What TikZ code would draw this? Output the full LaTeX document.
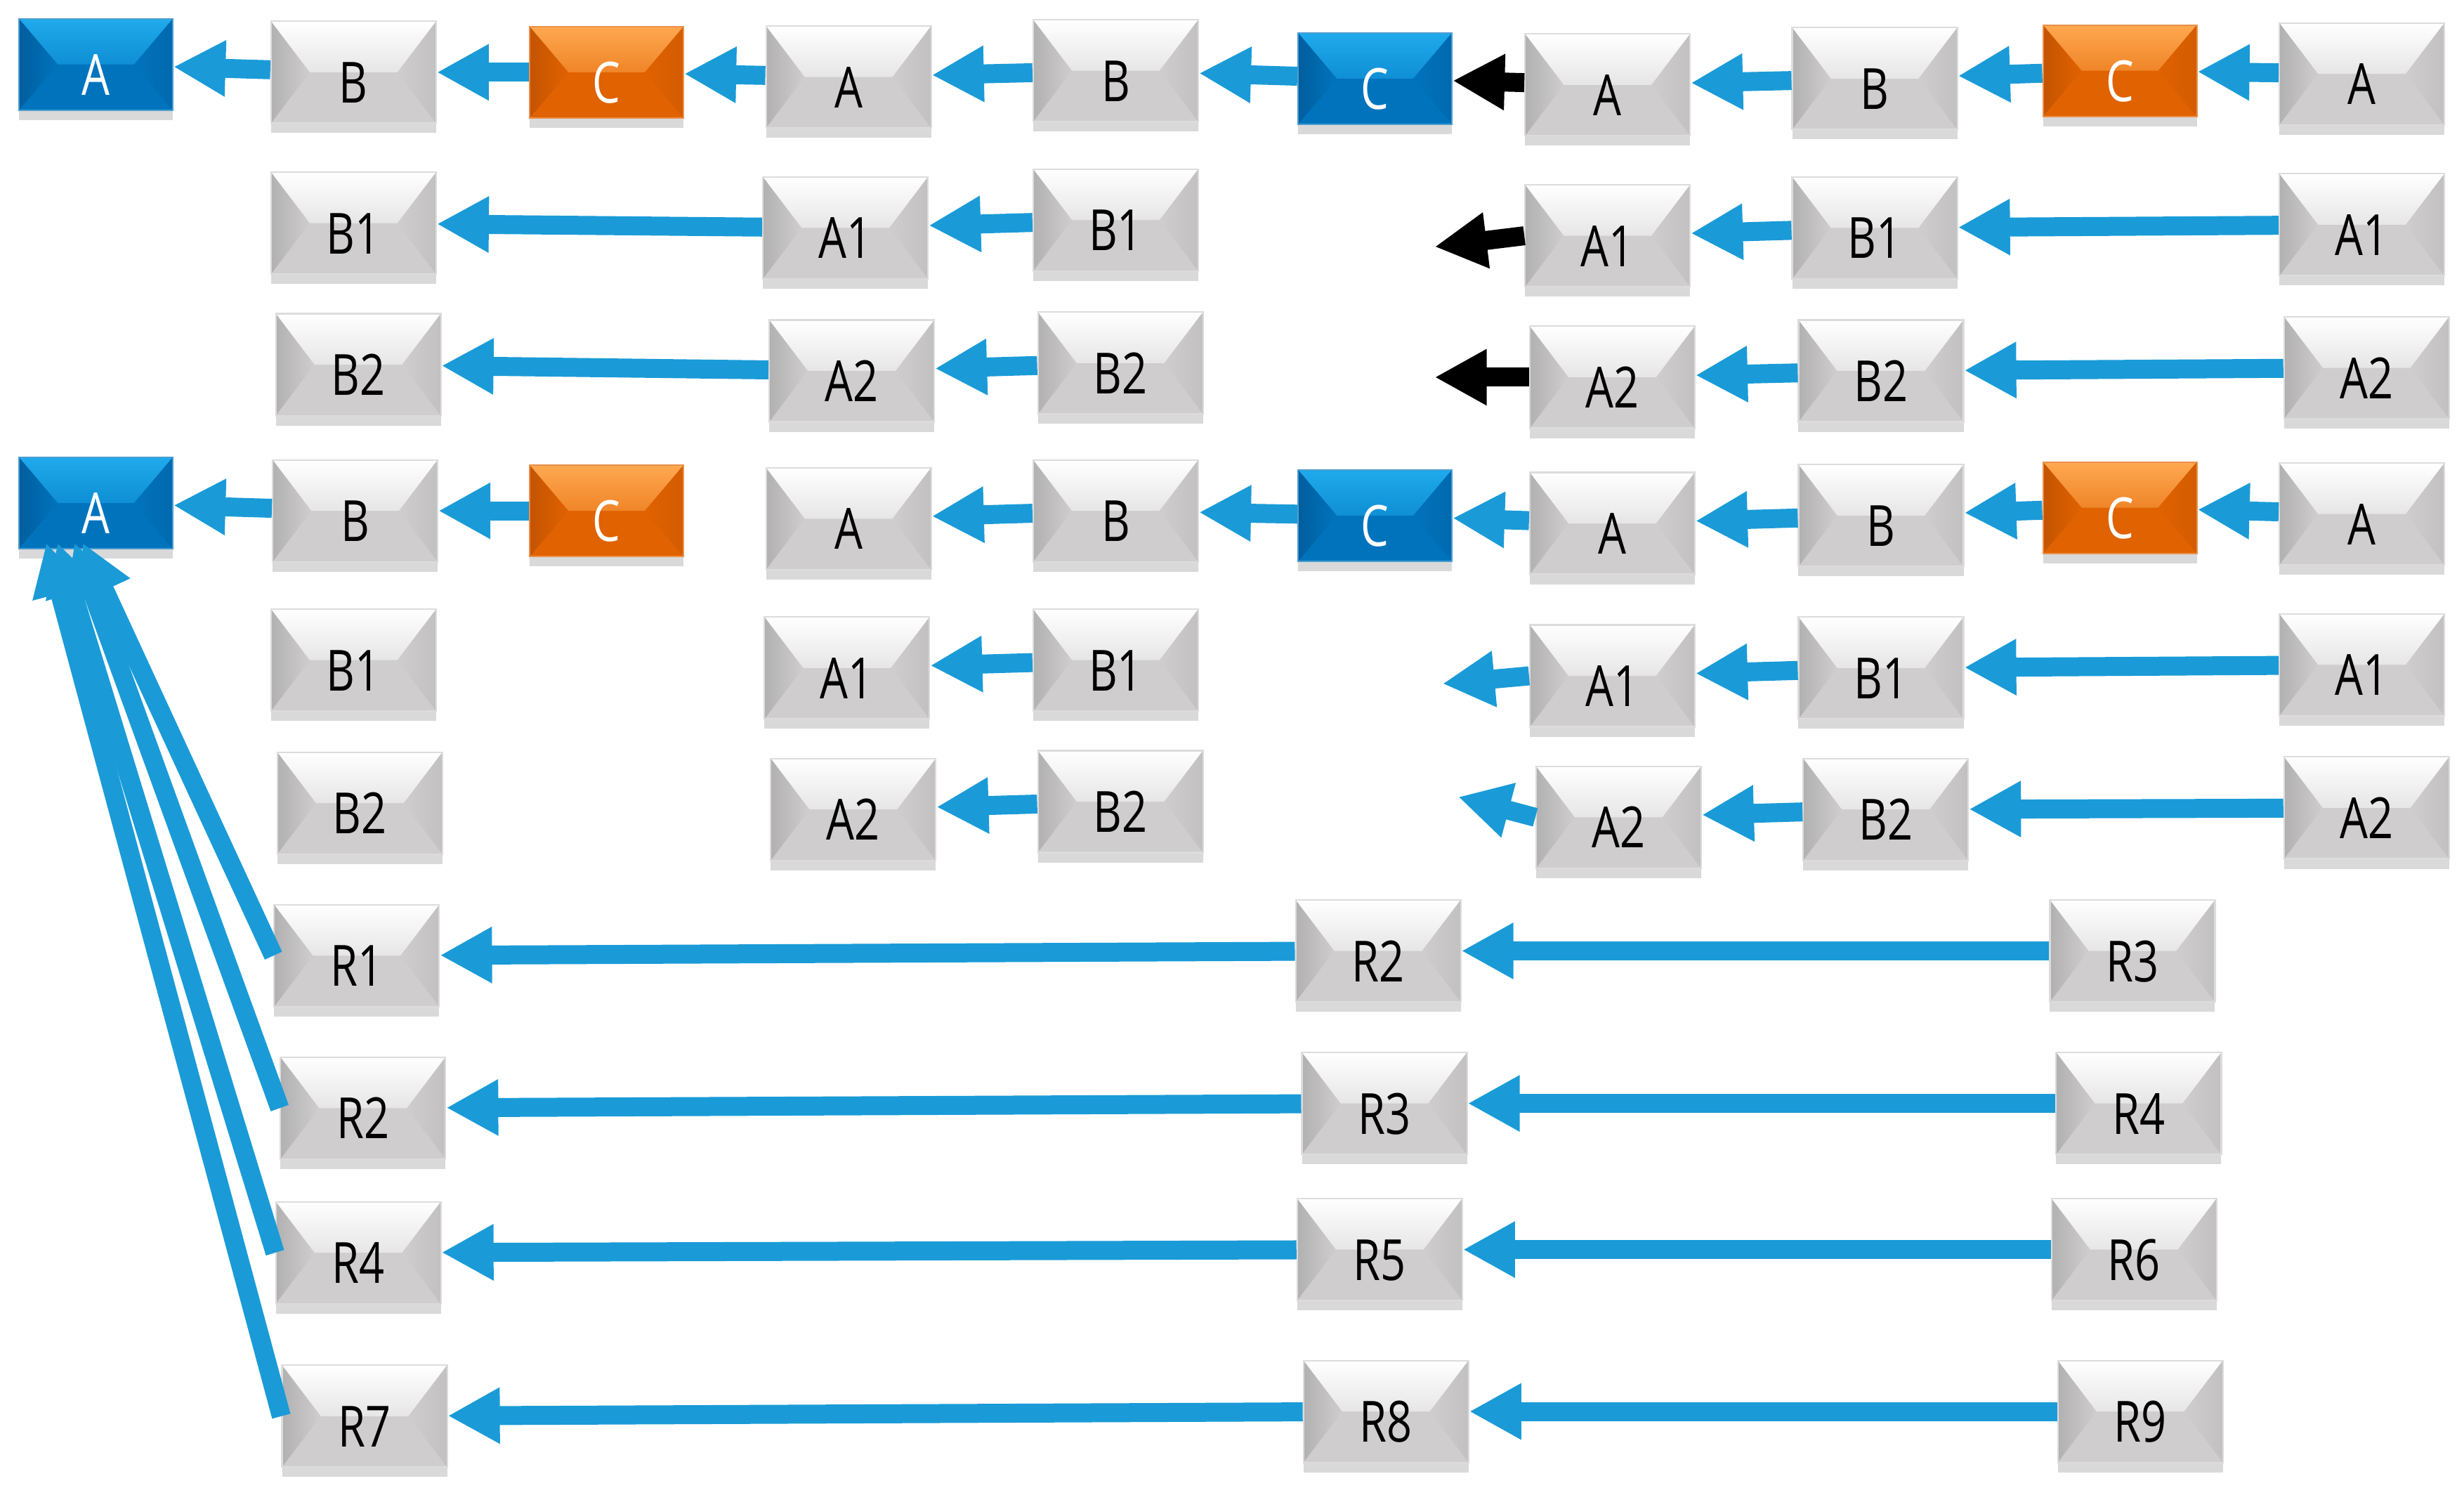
\documentclass[tikz,border=0pt]{standalone}
\usepackage{fontspec}
\setmainfont{Open Sans}[FakeStretch=0.78]
\usetikzlibrary{arrows.meta,shadows}
\definecolor{boxgray}{HTML}{CFCDCE}
\definecolor{boxside}{HTML}{B2B1B2}
\definecolor{bluebase}{HTML}{0073BD}
\definecolor{bluetop}{HTML}{1FAAEC}
\definecolor{blueside}{HTML}{005E9E}
\definecolor{orangebase}{HTML}{E06200}
\definecolor{orangetop}{HTML}{FFA850}
\definecolor{orangeside}{HTML}{C45400}
\definecolor{flowblue}{HTML}{1A9BD7}
\tikzset{
  bevelbox/.style n args={3}{rectangle, inner sep=0pt, fill=#2, draw=#2!70!white, line width=0.6pt,
    font=\fontsize{23}{23}\selectfont, text height=0.87cm, text depth=0pt,
    drop shadow={shadow xshift=0pt, shadow yshift=-4pt, opacity=0.3},
    path picture={
      \shade[top color=#1, bottom color=#2] (path picture bounding box.north west) -- (path picture bounding box.north east)
        -- ([xshift=-0.55cm]path picture bounding box.east) -- ([xshift=0.55cm]path picture bounding box.west) -- cycle;
      \shade[left color=#3, right color=#2] (path picture bounding box.north west)
        -- ([xshift=0.55cm]path picture bounding box.west) -- (path picture bounding box.south west) -- cycle;
      \shade[left color=#2, right color=#3!45!#2] (path picture bounding box.north east)
        -- ([xshift=-0.55cm]path picture bounding box.east) -- (path picture bounding box.south east) -- cycle;
    }},
  graybox/.style={bevelbox={white}{boxgray}{boxside}, minimum width=2.35cm, minimum height=1.45cm, text=black},
  bluebox/.style={bevelbox={bluetop}{bluebase}{blueside}, minimum width=2.19cm, minimum height=1.30cm, text=white},
  orangebox/.style={bevelbox={orangetop}{orangebase}{orangeside}, minimum width=2.19cm, minimum height=1.30cm, text=white},
  bluearrow/.style={draw=flowblue, line width=0.27cm, -{Triangle[length=0.74cm,width=0.75cm]}},
  blackarrow/.style={draw=black, line width=0.27cm, -{Triangle[length=0.74cm,width=0.75cm]}}
}
\begin{document}
\begin{tikzpicture}[x=0.02237cm,y=-0.02237cm]
  \useasboundingbox (0,0) rectangle (1568,946.3);
  \draw
    (61,41) node[bluebox] (t1){A}
    (225,46) node[graybox] (t2){B}
    (386,46) node[orangebox] (t3){C}
    (540,49) node[graybox] (t4){A}
    (710,45) node[graybox] (t5){B}
    (875,50) node[bluebox] (t6){C}
    (1023,54) node[graybox] (t7){A}
    (1193,50) node[graybox] (t8){B}
    (1349,45) node[orangebox] (t9){C}
    (1503,47) node[graybox] (t10){A};
  \draw
    (225,142) node[graybox] (u1){B1}
    (538,145) node[graybox] (u2){A1}
    (710,140) node[graybox] (u3){B1}
    (1023,150) node[graybox] (u4){A1}
    (1193,145) node[graybox] (u5){B1}
    (1503,143) node[graybox] (u6){A1};
  \draw
    (228,232) node[graybox] (v1){B2}
    (542,236) node[graybox] (v2){A2}
    (713,231) node[graybox] (v3){B2}
    (1026,240) node[graybox] (v4){A2}
    (1197,236) node[graybox] (v5){B2}
    (1506,234) node[graybox] (v6){A2};
  \draw
    (61,320) node[bluebox] (w1){A}
    (226,325) node[graybox] (w2){B}
    (386,325) node[orangebox] (w3){C}
    (540,330) node[graybox] (w4){A}
    (710,325) node[graybox] (w5){B}
    (875,328) node[bluebox] (w6){C}
    (1026,333) node[graybox] (w7){A}
    (1197,328) node[graybox] (w8){B}
    (1349,323) node[orangebox] (w9){C}
    (1503,327) node[graybox] (w10){A};
  \draw
    (225,420) node[graybox] (x1){B1}
    (539,425) node[graybox] (x2){A1}
    (710,420) node[graybox] (x3){B1}
    (1026,430) node[graybox] (x4){A1}
    (1197,425) node[graybox] (x5){B1}
    (1503,423) node[graybox] (x6){A1};
  \draw
    (229,511) node[graybox] (y1){B2}
    (543,515) node[graybox] (y2){A2}
    (713,510) node[graybox] (y3){B2}
    (1030,520) node[graybox] (y4){A2}
    (1200,515) node[graybox] (y5){B2}
    (1506,514) node[graybox] (y6){A2};
  \draw
    (227,608) node[graybox] (p1){R1}
    (877,605) node[graybox] (p2){R2}
    (1357,605) node[graybox] (p3){R3}
    (231,705) node[graybox] (p4){R2}
    (881,702) node[graybox] (p5){R3}
    (1361,702) node[graybox] (p6){R4}
    (228,797) node[graybox] (p7){R4}
    (878,795) node[graybox] (p8){R5}
    (1358,795) node[graybox] (p9){R6}
    (232,901) node[graybox] (p10){R7}
    (882,898) node[graybox] (p11){R8}
    (1362,898) node[graybox] (p12){R9};
  \coordinate (u0) at (913,157);
  \coordinate (v0) at (913,240);
  \coordinate (x0) at (918,435);
  \coordinate (y0) at (928,507);
  \begin{scope}[bluearrow]
    \draw (t2) to (t1);
    \draw (t3) to (t2);
    \draw (t4) to (t3);
    \draw (t5) to (t4);
    \draw (t6) to (t5);
    \draw (t8) to (t7);
    \draw (t9) to (t8);
    \draw (t10) to (t9);
    \draw (u2) to (u1);
    \draw (u3) to (u2);
    \draw (u5) to (u4);
    \draw (u6) to (u5);
    \draw (v2) to (v1);
    \draw (v3) to (v2);
    \draw (v5) to (v4);
    \draw (v6) to (v5);
    \draw (w2) to (w1);
    \draw (w3) to (w2);
    \draw (w5) to (w4);
    \draw (w6) to (w5);
    \draw (w7) to (w6);
    \draw (w8) to (w7);
    \draw (w9) to (w8);
    \draw (w10) to (w9);
    \draw (x3) to (x2);
    \draw (x4.west) to (x0);
    \draw (x5) to (x4);
    \draw (x6) to (x5);
    \draw (y3) to (y2);
    \draw (y4.west) to (y0);
    \draw (y5) to (y4);
    \draw (y6) to (y5);
    \draw (p2) to (p1);
    \draw (p3) to (p2);
    \draw (p5) to (p4);
    \draw (p6) to (p5);
    \draw (p8) to (p7);
    \draw (p9) to (p8);
    \draw (p11) to (p10);
    \draw (p12) to (p11);
    \draw (p1.west) to ([xshift=0.92cm,yshift=0.09cm]w1.south west);
    \draw (p4.west) to ([xshift=0.80cm,yshift=0.09cm]w1.south west);
    \draw (p7.west) to ([xshift=0.56cm,yshift=0.09cm]w1.south west);
    \draw (p10.west) to ([xshift=0.40cm,yshift=0.09cm]w1.south west);
  \end{scope}
  \begin{scope}[blackarrow]
    \draw (t7) to (t6);
    \draw (u4.west) to (u0);
    \draw (v4.west) to (v0);
  \end{scope}
\end{tikzpicture}
\end{document}
